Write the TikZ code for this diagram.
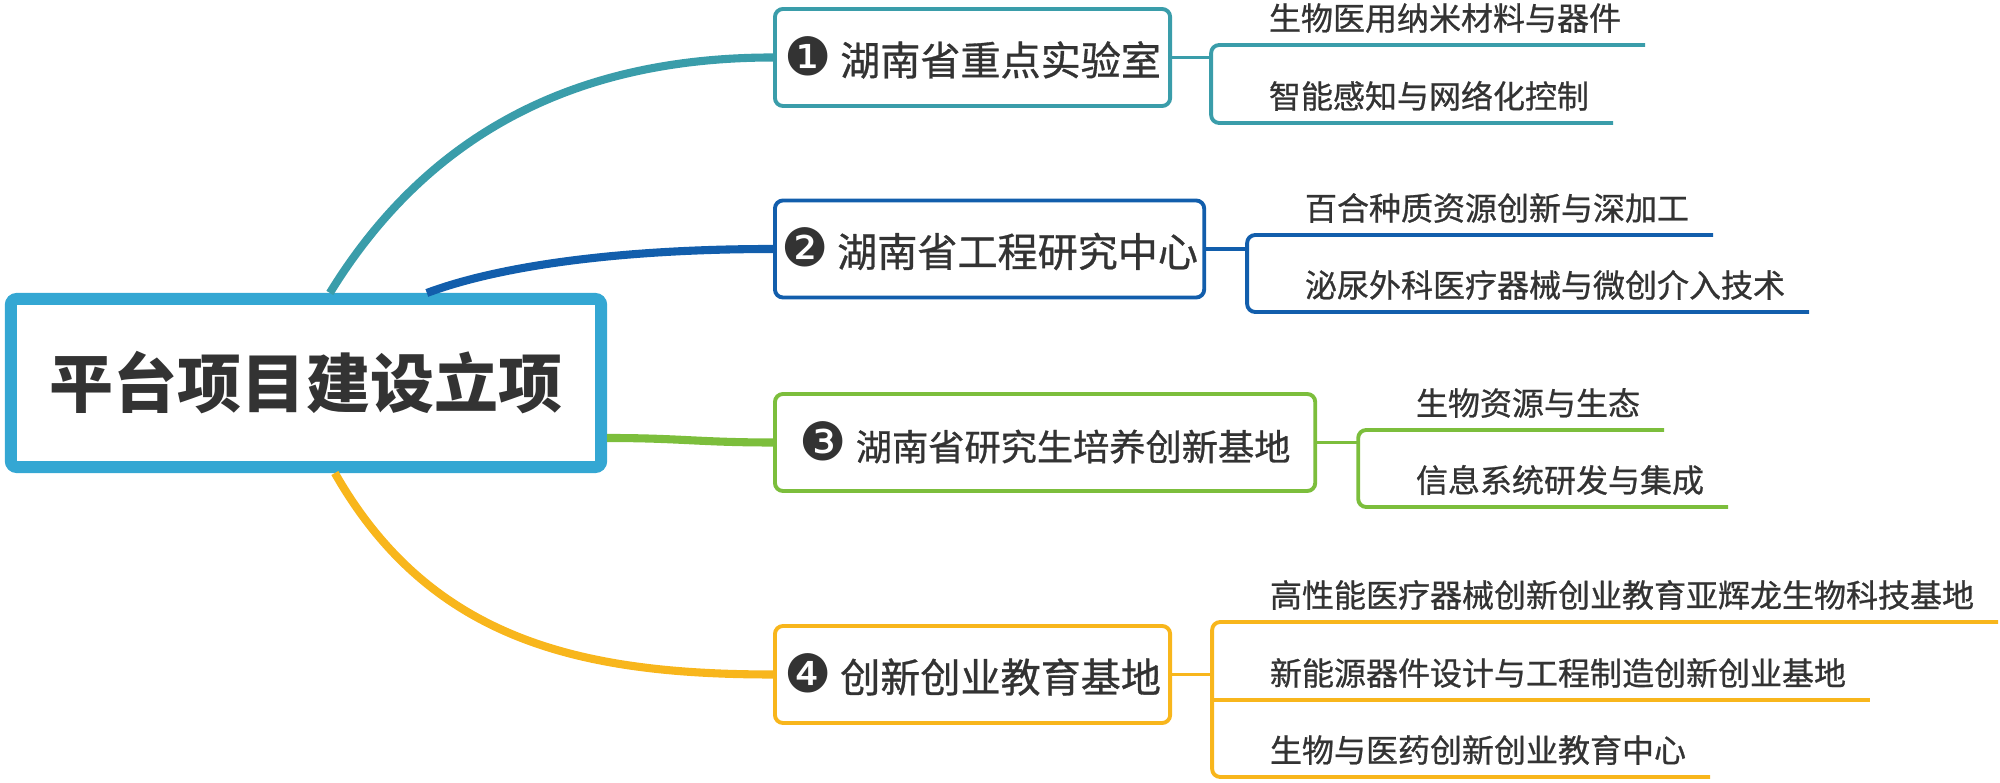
\documentclass[tikz,border=0pt]{standalone}
\usepackage{fontspec}
\setmainfont{Noto Sans CJK SC}
\newfontfamily\midfont[FakeBold=0.8]{Noto Sans CJK SC}
\newfontfamily\dingfont{DejaVu Sans}
\usetikzlibrary{calc}
\definecolor{rootc}{RGB}{52,167,211}
\definecolor{tealc}{RGB}{58,157,170}
\definecolor{bluec}{RGB}{18,94,172}
\definecolor{greenc}{RGB}{124,190,60}
\definecolor{yellowc}{RGB}{248,182,28}
\definecolor{inkc}{RGB}{51,51,51}
\tikzset{
  trunk/.style={line width=2.3pt},
  topic/.style={draw, line width=1.1pt, rounded corners=2.3pt, fill=white, anchor=west,
    minimum height=0.97cm, inner sep=0pt, text=inkc, font=\midfont\fontsize{11.4pt}{14pt}\selectfont},
  subitem/.style={anchor=south west, inner xsep=0pt, inner ysep=3.1pt, outer sep=0pt,
    text height=8pt, text depth=1.1pt, text=inkc, font=\midfont\fontsize{9.1pt}{11pt}\selectfont},
  twig/.style={line width=1.1pt, rounded corners=2.3pt}
}
\newcommand{\numdot}[1]{{\dingfont\fontsize{15pt}{16pt}\selectfont #1}\hspace{2.5pt}}

\begin{document}
\begin{tikzpicture}[x=0.01cm, y=-0.01cm]
\useasboundingbox (0,0) rectangle (2000,783);

\node[draw=rootc, line width=3.4pt, rounded corners=1.7pt, minimum width=5.9cm, minimum height=1.68cm,
  inner sep=0pt, text=inkc, font=\fontsize{18.2pt}{20pt}\selectfont\bfseries] (root) at (306,383) {平台项目建设立项};

\node[topic, draw=tealc, minimum width=3.95cm] (b1) at (773,57.5) {\numdot{❶}湖南省重点实验室};
\node[topic, draw=bluec, minimum width=4.29cm] (b2) at (773,249) {\numdot{❷}湖南省工程研究中心};
\node[topic, draw=greenc, minimum width=5.40cm, font=\midfont\fontsize{10.3pt}{12pt}\selectfont] (b3) at (773,442.5) {\numdot{❸}湖南省研究生培养创新基地};
\node[topic, draw=yellowc, minimum width=3.95cm] (b4) at (773,674.5) {\numdot{❹}创新创业教育基地};

\coordinate (r1) at ($(root.north west)+(325,0)$);
\coordinate (r2) at ($(root.north west)+(422,0)$);
\coordinate (r3) at ($(root.east)+(0,55)$);
\coordinate (r4) at ($(root.south west)+(330,0)$);

\draw[trunk, tealc] (r1) .. controls (430,130) and (580,57.5) .. (b1.west);
\draw[trunk, bluec] (r2) .. controls (510,262) and (640,249) .. (b2.west);
\draw[trunk, greenc] (r3) .. controls (680,438) and (700,442.5) .. (b3.west);
\draw[trunk, yellowc] (r4) .. controls (430,640) and (580,674.5) .. (b4.west);

\node[subitem] (s11) at (1269,45)  {生物医用纳米材料与器件};
\node[subitem] (s12) at (1269,123) {智能感知与网络化控制};
\node[subitem] (s21) at (1305,235) {百合种质资源创新与深加工};
\node[subitem] (s22) at (1305,312) {泌尿外科医疗器械与微创介入技术};
\node[subitem] (s31) at (1416,430) {生物资源与生态};
\node[subitem] (s32) at (1416,507) {信息系统研发与集成};
\node[subitem] (s41) at (1270,622) {高性能医疗器械创新创业教育亚辉龙生物科技基地};
\node[subitem] (s42) at (1270,700) {新能源器件设计与工程制造创新创业基地};
\node[subitem] (s43) at (1270,777) {生物与医药创新创业教育中心};

\coordinate (j1) at ($(b1.east)+(39,0)$);
\coordinate (j2) at ($(b2.east)+(41,0)$);
\coordinate (j3) at ($(b3.east)+(41,0)$);
\coordinate (j4) at ($(b4.east)+(40,0)$);

\foreach \b/\c in {1/tealc, 2/bluec, 3/greenc}
{
  \draw[twig, \c] (b\b.east) -- (j\b);
  \draw[twig, \c] ($(s\b1.south east)+(24,0)$) -- (s\b1.south west -| j\b)
    -- (s\b2.south west -| j\b) -- ($(s\b2.south east)+(24,0)$);
}
\draw[twig, yellowc] (b4.east) -- (j4);
\draw[twig, yellowc] ($(s41.south east)+(24,0)$) -- (s41.south west -| j4)
  -- (s43.south west -| j4) -- ($(s43.south east)+(24,0)$);
\draw[twig, yellowc] (s42.south west -| j4) -- ($(s42.south east)+(24,0)$);
\end{tikzpicture}
\end{document}
